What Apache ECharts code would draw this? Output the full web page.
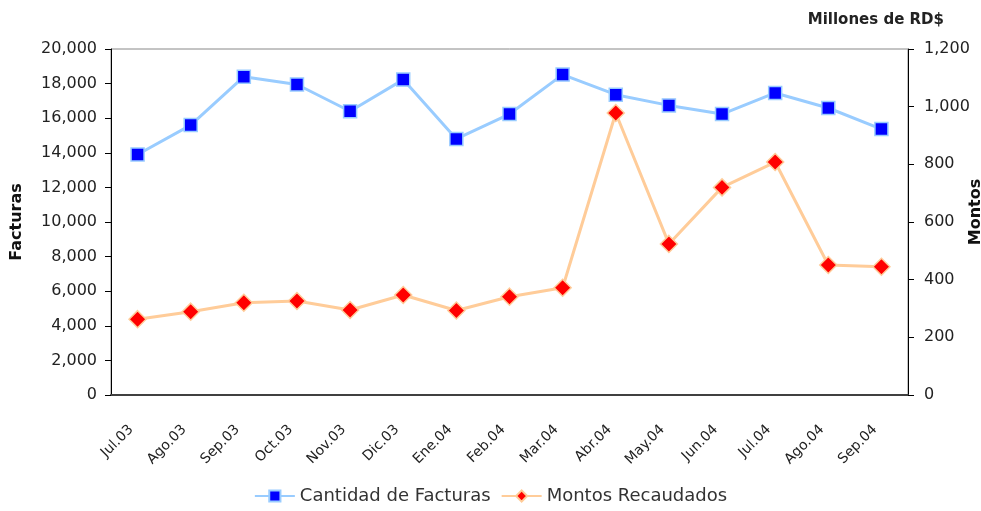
<!DOCTYPE html>
<html>
<head>
<meta charset="utf-8">
<script src="https://cdn.jsdelivr.net/npm/echarts@6/dist/echarts.min.js"></script>
<style>
  html, body { margin: 0; padding: 0; background: #fff; }
  #chart { width: 981px; height: 511px; }
</style>
</head>
<body>
<div id="chart"></div>
<script>
var meses = ['Jul.03', 'Ago.03', 'Sep.03', 'Oct.03', 'Nov.03', 'Dic.03', 'Ene.04', 'Feb.04',
             'Mar.04', 'Abr.04', 'May.04', 'Jun.04', 'Jul.04', 'Ago.04', 'Sep.04'];
var facturas = [13900, 15600, 18400, 17950, 16400, 18230, 14800, 16240,
                18520, 17360, 16740, 16240, 17460, 16590, 15370];
var montos = [263, 289, 320, 326, 295, 347, 293, 341,
              372, 978, 524, 720, 808, 451, 445];

var fuente = 'DejaVu Sans';
var chart = echarts.init(document.getElementById('chart'));

chart.setOption({
  animation: false,
  textStyle: { fontFamily: fuente, color: '#222' },
  title: {
    text: 'Millones de RD$',
    right: 32, top: 8,
    textStyle: { fontFamily: fuente, fontSize: 15, fontWeight: 'bold', color: '#222' }
  },
  // the right axis title sits at the very edge and is cut off, as in the original
  graphic: [{
    type: 'text',
    x: 976, y: 212,
    rotation: Math.PI / 2,
    style: {
      text: 'Montos', fontFamily: fuente, fontSize: 16, fontWeight: 'bold',
      fill: '#111', align: 'center', verticalAlign: 'middle'
    }
  }],
  legend: {
    bottom: 1,
    left: 'center',
    itemWidth: 40,
    itemHeight: 14,
    itemGap: 10,
    textStyle: { fontFamily: fuente, fontSize: 18, color: '#333' },
    data: ['Cantidad de Facturas', 'Montos Recaudados']
  },
  grid: {
    left: 111, right: 73, top: 49, bottom: 116,
    outerBoundsMode: 'none',
    containLabel: false,
    show: true, borderColor: '#888', borderWidth: 1
  },
  xAxis: {
    type: 'category',
    data: meses,
    axisLine: { lineStyle: { color: '#404040', width: 2 } },
    axisTick: { length: 6, lineStyle: { color: '#000' } },
    axisLabel: {
      rotate: 45, fontSize: 14, margin: 26, color: '#222',
      padding: [0, 9, 0, 0]
    }
  },
  yAxis: [{
    type: 'value',
    min: 0, max: 20000, interval: 2000,
    name: 'Facturas',
    nameLocation: 'middle',
    nameGap: 86,
    nameTextStyle: { fontSize: 16, fontWeight: 'bold', color: '#111' },
    axisLine: { show: true, lineStyle: { color: '#000' } },
    axisTick: { show: true, length: 6, lineStyle: { color: '#000' } },
    axisLabel: {
      fontSize: 16, margin: 14, color: '#222',
      formatter: function (v) { return v.toLocaleString('en-US'); }
    },
    splitLine: { show: false }
  }, {
    type: 'value',
    min: 0, max: 1200, interval: 200,
    axisLine: { show: true, lineStyle: { color: '#000' } },
    axisTick: { show: true, length: 6, lineStyle: { color: '#000' } },
    axisLabel: {
      fontSize: 16, margin: 16, color: '#222',
      formatter: function (v) { return v.toLocaleString('en-US'); }
    },
    splitLine: { show: false }
  }],
  series: [{
    name: 'Cantidad de Facturas',
    type: 'line',
    yAxisIndex: 0,
    data: facturas,
    symbol: 'rect',
    symbolSize: 13,
    lineStyle: { color: '#99CCFF', width: 3 },
    itemStyle: { color: '#0000FF', borderColor: '#99CCFF', borderWidth: 1.5 }
  }, {
    name: 'Montos Recaudados',
    type: 'line',
    yAxisIndex: 1,
    data: montos,
    symbol: 'diamond',
    symbolSize: 17,
    lineStyle: { color: '#FFCC99', width: 3 },
    itemStyle: { color: '#FF0000', borderColor: '#FFCC99', borderWidth: 1.5 }
  }]
});
</script>
</body>
</html>
